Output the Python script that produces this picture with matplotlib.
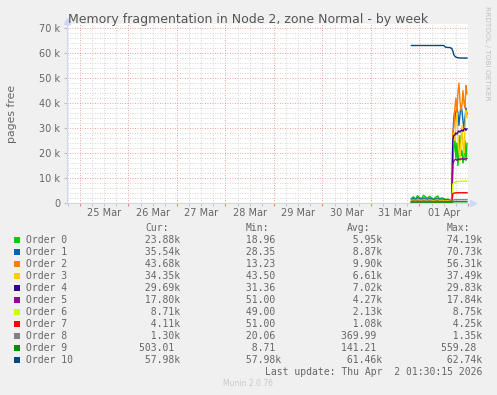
import numpy as np
import matplotlib
matplotlib.use("Agg")
import matplotlib.pyplot as plt
from matplotlib.patches import Rectangle
from matplotlib.ticker import MultipleLocator, FuncFormatter

W, H = 497, 395

# sample times, hours since 24 Mar 00:00 (hourly, then 30 min after the jump)
hours = list(range(188, 209)) + [208.5 + 0.5 * i for i in range(15)]

order0 = [1800, 2500, 1500, 2900, 2200, 1700, 3100, 2400, 1900, 2700, 2000, 1600, 2300, 2800, 1500, 2100, 1800, 1400, 1600, 1200, 1000,
          16000, 22000, 26000, 18000, 24000, 15000, 20000, 27000, 19000, 21000, 16000, 18000, 25000, 17000, 23880]
order1 = [1500, 1800, 1300, 2100, 1700, 1500, 2000, 1800, 1400, 1900, 1600, 1300, 1700, 1900, 1300, 1600, 1400, 1200, 1300, 1000, 900,
          27000, 34000, 37000, 33000, 38000, 36000, 31000, 35000, 39000, 37000, 33000, 30000, 34000, 38000, 35540]
order2 = [1200, 1400, 1100, 1600, 1300, 1200, 1500, 1400, 1100, 1500, 1200, 1000, 1300, 1500, 1100, 1300, 1100, 900, 1000, 800, 700,
          29000, 30000, 38000, 42000, 36000, 44000, 48000, 41000, 37000, 39000, 45000, 40000, 38000, 47000, 43680]
order3 = [900, 1000, 800, 1100, 1000, 900, 1100, 1000, 800, 1000, 900, 800, 900, 1100, 800, 900, 800, 700, 800, 600, 500,
          21000, 28000, 25000, 33000, 36000, 27000, 22000, 17000, 24000, 31000, 23000, 20000, 29000, 37000, 34350]
order4 = [600, 700, 600, 700, 650, 600, 700, 650, 600, 700, 600, 550, 650, 700, 550, 600, 550, 500, 500, 450, 400,
          25500, 27000, 27200, 28000, 27600, 28300, 28800, 28400, 28900, 29200, 28700, 29500, 29800, 29100, 29690]
order5 = [400, 450, 400, 480, 420, 400, 460, 430, 400, 450, 400, 380, 420, 450, 380, 400, 380, 350, 350, 320, 300,
          15500, 16800, 17300, 17500, 17100, 17400, 17600, 17300, 17700, 17500, 17800, 17400, 17700, 17600, 17800]
order6 = [250, 280, 250, 300, 260, 250, 290, 270, 250, 280, 250, 240, 260, 280, 240, 250, 240, 220, 220, 200, 180,
          7600, 8100, 8300, 8450, 8550, 8600, 8650, 8680, 8700, 8700, 8720, 8710, 8730, 8720, 8710]
order7 = [180, 200, 180, 210, 190, 180, 200, 190, 180, 200, 180, 170, 190, 200, 170, 180, 170, 160, 160, 150, 140,
          3700, 3950, 4020, 4060, 4080, 4090, 4100, 4100, 4110, 4110, 4110, 4110, 4110, 4110, 4110]
order8 = [90, 100, 90, 110, 95, 90, 105, 100, 90, 100, 90, 85, 95, 100, 85, 90, 85, 80, 80, 75, 70,
          1150, 1240, 1270, 1290, 1300, 1300, 1300, 1300, 1300, 1300, 1300, 1300, 1300, 1300, 1300]
order9 = [60, 65, 60, 70, 62, 60, 68, 64, 60, 66, 60, 58, 62, 66, 58, 60, 58, 55, 55, 52, 50,
          440, 480, 495, 500, 502, 503, 503, 503, 503, 503, 503, 503, 503, 503, 503]
order10 = [63000, 63000, 63000, 63000, 63000, 63000, 63000, 63000, 63000, 63000, 63000, 63000, 63000, 63000, 63000, 63000, 63000,
           62300, 62200, 62200, 61800,
           60800, 59300, 58700, 58400, 58200, 58100, 58050, 58000, 58000, 58000, 57990, 57990, 57980, 57980, 57980]

series = [order0, order1, order2, order3, order4, order5, order6, order7, order8, order9, order10]
names = ['Order %d' % i for i in range(11)]
colors = ['#00CC00', '#0066B3', '#FF8000', '#FFCC00', '#330099', '#990099',
          '#CCFF00', '#FF0000', '#808080', '#008F00', '#00487D']

cur = ['23.88k', '35.54k', '43.68k', '34.35k', '29.69k', '17.80k', '8.71k', '4.11k', '1.30k', '503.01', '57.98k']
mins = ['18.96', '28.35', '13.23', '43.50', '31.36', '51.00', '49.00', '51.00', '20.06', '8.71', '57.98k']
avgs = ['5.95k', '8.87k', '9.90k', '6.61k', '7.02k', '4.27k', '2.13k', '1.08k', '369.99', '141.21', '61.46k']
maxs = ['74.19k', '70.73k', '56.31k', '37.49k', '29.83k', '17.84k', '8.75k', '4.25k', '1.35k', '559.28', '62.74k']

day_labels = ['25 Mar', '26 Mar', '27 Mar', '28 Mar', '29 Mar', '30 Mar', '31 Mar', '01 Apr']
day_noons = [36, 60, 84, 108, 132, 156, 180, 204]

FONT = '#666666'
fig = plt.figure(figsize=(W / 100, H / 100), dpi=100, facecolor='#F0F0F0')
ax = fig.add_axes([67 / W, 1 - 203 / H, 401 / W, 179 / H])
ax.set_facecolor('white')

for s, c in zip(series, colors):
    ax.plot(hours, s, color=c, lw=1.0)

ax.set_xlim(17.57, 216.0)
ax.set_ylim(0, 71600)

# grid: red major, grey minor
ax.xaxis.set_major_locator(MultipleLocator(24))
ax.xaxis.set_minor_locator(MultipleLocator(6))
lab = dict(zip(day_noons, day_labels))
ax.xaxis.set_major_formatter(FuncFormatter(lambda v, p: ''))
ax.xaxis.set_minor_formatter(FuncFormatter(lambda v, p: lab.get(int(round(v)), '')))
ax.yaxis.set_major_locator(MultipleLocator(10000))
ax.yaxis.set_minor_locator(MultipleLocator(2000))
ax.yaxis.set_major_formatter(FuncFormatter(lambda v, p: '0' if v == 0 else '%d k' % (v / 1000)))
ax.grid(which='minor', color='#C8C8C8', lw=0.6, ls=(0, (1, 2)))
ax.grid(which='major', color='#E88080', lw=0.6, ls=(0, (1, 2)))
ax.set_axisbelow(True)

ax.tick_params(axis='x', which='major', length=2, color='#E88080', pad=1.5)
ax.tick_params(axis='x', which='minor', length=2, color='#BBBBBB', pad=1.5, labelsize=7, labelcolor=FONT)
ax.tick_params(axis='y', which='major', length=2, color='#BBBBBB', pad=3, labelsize=7, labelcolor=FONT)
ax.tick_params(axis='y', which='minor', length=0)

for sp in ['top', 'right']:
    ax.spines[sp].set_visible(False)
for sp in ['left', 'bottom']:
    ax.spines[sp].set_color('#CFD6F8')
    ax.spines[sp].set_linewidth(0.8)
ax.plot([0], [1.015], marker='^', ms=4, color='#CFD6F8', transform=ax.transAxes, clip_on=False)
ax.plot([1.012], [0], marker='>', ms=4, color='#CFD6F8', transform=ax.transAxes, clip_on=False)

ax.set_ylabel('pages free', fontsize=7.8, color=FONT)
ax.yaxis.set_label_coords(-50 / 401, 0.5)

def fx(x):
    return x / W

def fy(y):
    return 1 - y / H

fig.text(fx(248), fy(19), 'Memory fragmentation in Node 2, zone Normal - by week',
         ha='center', va='center', fontsize=9.0, color='#555555')
fig.text(fx(487), fy(53), 'RRDTOOL / TOBI OETIKER', rotation=270, ha='center', va='center',
         fontsize=5.3, color='#C0C0C0')

mono = dict(family='DejaVu Sans Mono', fontsize=7, color=FONT, va='center')

def col(s):
    return (s if s.endswith('k') else s + ' ').rjust(7)

for x, h in zip([145, 245.7, 346.7, 446.7], ['Cur:', 'Min:', 'Avg:', 'Max:']):
    fig.text(fx(x), fy(227.7), h, **mono)
for i in range(11):
    y = 239.7 + 12 * i
    fig.add_artist(Rectangle((fx(14), fy(y + 3)), 6 / W, 6 / H, transform=fig.transFigure,
                             facecolor=colors[i], edgecolor='none'))
    fig.text(fx(26), fy(y), names[i], **mono)
    fig.text(fx(139.1), fy(y), col(cur[i]), **mono)
    fig.text(fx(239.8), fy(y), col(mins[i]), **mono)
    fig.text(fx(340.8), fy(y), col(avgs[i]), **mono)
    fig.text(fx(441.4), fy(y), col(maxs[i]), **mono)

fig.text(fx(482.7), fy(371.7), 'Last update: Thu Apr  2 01:30:15 2026', ha='right', **mono)
fig.text(fx(248), fy(384), 'Munin 2.0.76', ha='center', va='center', fontsize=5.5, color='#C8C8C8')

fig.savefig('out.png', dpi=100, facecolor=fig.get_facecolor())
